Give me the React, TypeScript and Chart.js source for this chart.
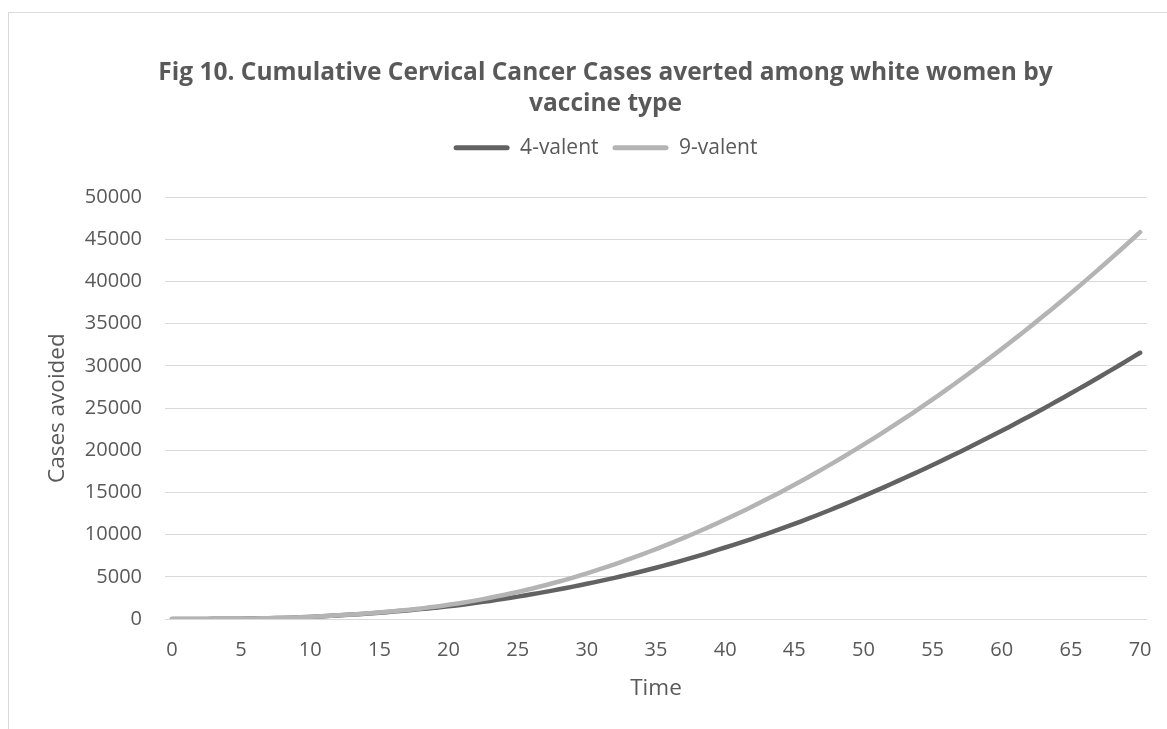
import React, { useEffect, useRef } from 'react';
import { Chart, registerables, layouts } from 'chart.js';

Chart.register(...registerables);

const TITLE_LINES = [
  'Fig 10. Cumulative Cervical Cancer Cases averted among white women by',
  'vaccine type',
];
const X_TITLE = 'Time';
const Y_TITLE = 'Cases avoided';
const SERIES_NAMES = ['4-valent', '9-valent'];

const TIME = [
  0, 1, 2, 3, 4, 5, 6, 7, 8, 9, 10, 11, 12, 13, 14, 15, 16, 17, 18, 19, 20,
  21, 22, 23, 24, 25, 26, 27, 28, 29, 30, 31, 32, 33, 34, 35, 36, 37, 38, 39, 40,
  41, 42, 43, 44, 45, 46, 47, 48, 49, 50, 51, 52, 53, 54, 55, 56, 57, 58, 59, 60,
  61, 62, 63, 64, 65, 66, 67, 68, 69, 70,
];

const VALENT4 = [
  0, 3, 8, 15, 25, 40, 60, 90, 130, 185, 250,
  330, 420, 520, 630, 750, 880, 1020, 1170, 1330, 1500,
  1700, 1915, 2145, 2390, 2650, 2925, 3215, 3520, 3840, 4175,
  4515, 4875, 5255, 5655, 6075, 6515, 6975, 7455, 7955, 8475,
  8995, 9535, 10095, 10675, 11275, 11895, 12535, 13195, 13875, 14575,
  15282, 16004, 16741, 17493, 18260, 19042, 19839, 20651, 21478, 22320,
  23177, 24049, 24936, 25838, 26755, 27687, 28634, 29596, 30573, 31565,
];

const VALENT9 = [
  0, 3, 8, 15, 25, 40, 62, 92, 135, 190, 260,
  345, 440, 545, 660, 780, 920, 1080, 1250, 1440, 1680,
  1930, 2210, 2515, 2845, 3205, 3590, 4005, 4445, 4915, 5415,
  5940, 6490, 7065, 7665, 8290, 8940, 9615, 10315, 11040, 11790,
  12565, 13365, 14190, 15040, 15915, 16815, 17740, 18690, 19665, 20665,
  21690, 22740, 23814, 24913, 26037, 27186, 28359, 29557, 30780, 32027,
  33299, 34596, 35917, 37263, 38634, 40030, 41450, 42895, 44365, 45859,
];

const Y_MIN = 0;
const Y_MAX = 50000;
const Y_STEP = 5000;
const X_LABEL_EVERY = 5;

const TEXT_COLOR = '#595959';
const GRID_COLOR = '#d9d9d9';
const DARK = '#626262';
const LIGHT = '#b4b4b4';
const FONT = "'Open Sans', 'Noto Sans', sans-serif";

function makeSpacer(position: 'top' | 'right', size: number, weight: number) {
  const horizontal = position === 'top';
  const box: any = {
    position,
    weight,
    fullSize: horizontal,
    options: { stackWeight: 1 },
    left: 0,
    top: 0,
    right: 0,
    bottom: 0,
    width: 0,
    height: 0,
    isHorizontal() {
      return horizontal;
    },
    update(maxWidth: number, maxHeight: number) {
      if (horizontal) {
        this.width = maxWidth;
        this.height = size;
      } else {
        this.width = size;
        this.height = maxHeight;
      }
    },
    draw() {},
  };
  return box;
}

const spacers = {
  id: 'spacers',
  beforeInit(chart: any, _args: any, opts: any) {
    layouts.addBox(chart, makeSpacer('top', (opts && opts.top) || 0, 500));
    layouts.addBox(chart, makeSpacer('right', (opts && opts.right) || 0, 500));
  },
};

export default function App() {
  const ref = useRef<HTMLCanvasElement>(null);

  useEffect(() => {
    if (!ref.current) return;
    const chart = new Chart(ref.current, {
      type: 'line',
      data: {
        labels: TIME.map(String),
        datasets: [
          {
            label: SERIES_NAMES[0],
            data: VALENT4,
            borderColor: DARK,
            backgroundColor: DARK,
            borderWidth: 4.5,
            pointRadius: 0,
            tension: 0.4,
            borderCapStyle: 'round',
            borderJoinStyle: 'round',
            fill: false,
            order: 1,
          },
          {
            label: SERIES_NAMES[1],
            data: VALENT9,
            borderColor: LIGHT,
            backgroundColor: LIGHT,
            borderWidth: 4.5,
            pointRadius: 0,
            tension: 0.4,
            borderCapStyle: 'round',
            borderJoinStyle: 'round',
            fill: false,
            order: 0,
          },
        ],
      },
      plugins: [spacers],
      options: {
        responsive: false,
        animation: false,
        devicePixelRatio: 1,
        layout: { padding: 0 },
        plugins: {
          spacers: { top: 29, right: 55 },
          tooltip: { enabled: false },
          title: {
            display: true,
            text: TITLE_LINES,
            color: TEXT_COLOR,
            font: { family: FONT, size: 24.5, weight: 'bold', lineHeight: 1.25 },
            padding: { top: 45, bottom: 4 },
          },
          legend: {
            display: true,
            position: 'top',
            reverse: true,
            labels: {
              color: TEXT_COLOR,
              font: { family: FONT, size: 21 },
              boxWidth: 56,
              boxHeight: 5,
              padding: 14,
              generateLabels: (c: any) => {
                const items = (Chart.defaults as any).plugins.legend.labels.generateLabels(c);
                items.forEach((it: any) => {
                  it.lineWidth = 0;
                  it.fillStyle = it.strokeStyle;
                  it.borderRadius = 2.5;
                });
                return items;
              },
            },
          },
        } as any,
        scales: {
          x: {
            type: 'category',
            offset: true,
            grid: { display: false, drawTicks: false },
            border: { display: false },
            ticks: {
              autoSkip: false,
              maxRotation: 0,
              minRotation: 0,
              padding: 19,
              color: TEXT_COLOR,
              font: { family: FONT, size: 20 },
              callback: (_v: any, i: number) => (i % X_LABEL_EVERY === 0 ? String(TIME[i]) : ''),
            },
            title: {
              display: true,
              text: X_TITLE,
              color: TEXT_COLOR,
              font: { family: FONT, size: 22.5 },
              padding: { top: -6, bottom: 27 },
            },
          },
          y: {
            min: Y_MIN,
            max: Y_MAX,
            grid: { color: GRID_COLOR, lineWidth: 1, drawTicks: false },
            border: { display: false },
            ticks: {
              stepSize: Y_STEP,
              padding: 23,
              color: TEXT_COLOR,
              font: { family: FONT, size: 20 },
              callback: (v: any) => String(v),
            },
            title: {
              display: true,
              text: Y_TITLE,
              color: TEXT_COLOR,
              font: { family: FONT, size: 22.5 },
              padding: { top: 35.5, bottom: 0 },
            },
            afterFit: (s: any) => {
              s.width = 156;
            },
          },
        },
      } as any,
    });
    return () => chart.destroy();
  }, []);

  return (
    <div
      style={{
        position: 'absolute',
        left: 8,
        top: 12,
        width: 1159,
        height: 717,
        overflow: 'hidden',
        borderLeft: '1px solid #d9d9d9',
        borderTop: '1px solid #d9d9d9',
        boxSizing: 'border-box',
        background: '#ffffff',
      }}
    >
      <canvas ref={ref} width={1193} height={716} style={{ display: 'block' }} />
    </div>
  );
}
